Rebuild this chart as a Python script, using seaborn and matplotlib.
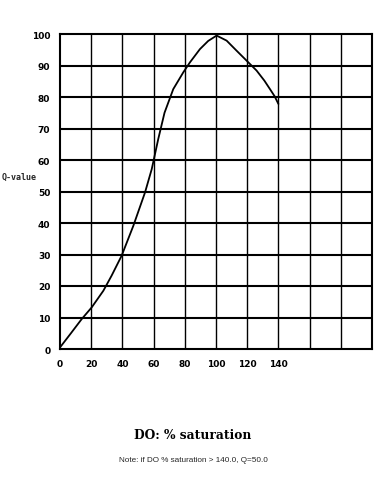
import matplotlib
matplotlib.use("Agg")
import matplotlib.pyplot as plt
import seaborn as sns
import pandas as pd

# Data
do_sat = [0, 7, 13.9, 20.3, 27.8, 33.1, 39.5, 47, 54.5, 58.8, 63, 67, 72.6, 79, 83.3, 89.7, 95, 100.4, 106.8, 113, 119.7, 126, 131, 134.6, 137.5, 140]
q_value = [0.5, 5, 9.5, 13.2, 18.5, 23.3, 29.6, 39.1, 49.7, 57.1, 66.7, 75, 82.5, 87.8, 91, 95.2, 97.8, 99.5, 97.9, 94.8, 91.5, 88.4, 85.2, 82.5, 80.3, 77.8]
x_tick_labels = ["0", "20", "40", "60", "80", "100", "120", "140"]
y_ticks = [0, 10, 20, 30, 40, 50, 60, 70, 80, 90, 100]

df = pd.DataFrame({"DO": do_sat, "Q": q_value})

sns.set_style("white")
fig = plt.figure(figsize=(3.87, 4.89), dpi=100)
ax = fig.add_axes([60/387, 1-350/489, 312/387, 315/489])

sns.lineplot(data=df, x="DO", y="Q", ax=ax, color="black", linewidth=1.3, sort=False)

ax.set_xlim(0, 200)
ax.set_ylim(0, 100)
ax.set_xticks(range(0, 201, 20))
ax.set_xticklabels(x_tick_labels + [""] * 3)
ax.set_yticks(y_ticks)
ax.set_yticklabels([str(v) for v in y_ticks])
for x in range(20, 200, 20):
    ax.axvline(x, color="black", linewidth=1.0, zorder=0)
for y in y_ticks[1:-1]:
    ax.axhline(y, color="black", linewidth=1.5, zorder=0)
for s in ax.spines.values():
    s.set_color("black")
    s.set_linewidth(1.5)
ax.tick_params(axis="both", length=0, labelsize=6.5, pad=7, colors="black")
for lbl in ax.get_xticklabels() + ax.get_yticklabels():
    lbl.set_fontweight("bold")
ax.set_xlabel("")
ax.set_ylabel("")

fig.text(2/387, 1-177/489, "Q-value", fontfamily="DejaVu Sans Mono", fontweight="bold",
         fontsize=6, ha="left", va="center")
fig.text(193/387, 1-436/489, "DO: % saturation", fontfamily="DejaVu Serif", fontweight="bold",
         fontsize=8.8, ha="center", va="center", color="black")
fig.text(193/387, 1-461/489, "Note: if DO % saturation > 140.0, Q=50.0", fontfamily="Liberation Sans",
         fontsize=5.9, ha="center", va="center")

fig.savefig("out.png", dpi=100)
